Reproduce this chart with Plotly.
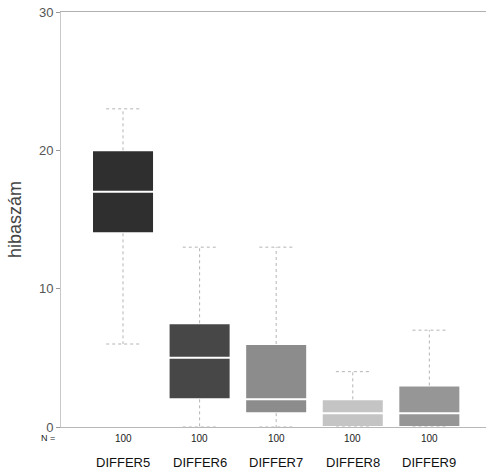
import plotly.graph_objects as go

categories = ["DIFFER5", "DIFFER6", "DIFFER7", "DIFFER8", "DIFFER9"]
n_values = [100, 100, 100, 100, 100]
q1 = [14, 2, 1, 0, 0]
median = [17, 5, 2, 1, 1]
q3 = [20, 7.5, 6, 2, 3]
lower_whisker = [6, 0, 0, 0, 0]
upper_whisker = [23, 13, 13, 4, 7]
fills = ["#2f2f2f", "#474747", "#8c8c8c", "#c4c4c4", "#969696"]
y_ticks = [0, 10, 20, 30]

pos = list(range(len(categories)))
fig = go.Figure()

# whiskers
wx, wy = [], []
cap = 0.22
for i in pos:
    wx += [i, i, None, i, i, None, i - cap, i + cap, None, i - cap, i + cap, None]
    wy += [q3[i], upper_whisker[i], None, q1[i], lower_whisker[i], None,
           upper_whisker[i], upper_whisker[i], None, lower_whisker[i], lower_whisker[i], None]
fig.add_trace(go.Scatter(x=wx, y=wy, mode="lines",
                         line=dict(color="#b4b4b4", width=1, dash="dot"),
                         hoverinfo="skip", showlegend=False))

for i in pos:
    fig.add_trace(go.Box(
        x=[i], q1=[q1[i]], median=[median[i]], q3=[q3[i]],
        lowerfence=[q1[i]], upperfence=[q3[i]],
        width=0.81, fillcolor=fills[i],
        line=dict(color="white", width=2),
        boxpoints=False, showlegend=False, whiskerwidth=0,
    ))

# N row and category labels
for i in pos:
    fig.add_annotation(x=i, y=0, xref="x", yref="paper", text=str(n_values[i]),
                       showarrow=False, yanchor="top", yshift=-4,
                       font=dict(size=10, color="#222", family="Liberation Sans, Arial"))
    fig.add_annotation(x=i, y=0, xref="x", yref="paper", text=categories[i],
                       showarrow=False, yanchor="top", yshift=-26,
                       font=dict(size=13, color="#111", family="Liberation Sans, Arial"))
fig.add_annotation(x=-0.81, y=0, xref="x", yref="paper", text="N =",
                   showarrow=False, xanchor="right", yanchor="top", yshift=-4, xshift=-4,
                   font=dict(size=9, color="#222", family="Liberation Sans, Arial"))

fig.add_trace(go.Scatter(x=[None], y=[None], xaxis="x2", showlegend=False,
                         hoverinfo="skip"))

fig.update_layout(
    width=486, height=470,
    margin=dict(l=61, r=0, t=12, b=43),
    paper_bgcolor="white", plot_bgcolor="white",
    font=dict(family="Liberation Sans, Arial", color="#333"),
    xaxis=dict(range=[-0.81, 4.74], showticklabels=False, showgrid=False,
               zeroline=False, showline=True, linecolor="#b8b8b8", linewidth=1,
               mirror=False, ticks=""),
    xaxis2=dict(overlaying="x", side="top", range=[-0.81, 4.74],
                showticklabels=False, showgrid=False, zeroline=False,
                showline=True, linecolor="#b0b0b0", linewidth=1, ticks=""),
    yaxis=dict(range=[0, 30], tickvals=y_ticks, showgrid=False, zeroline=False,
               showline=True, linecolor="#c8c8c8", linewidth=1, ticks="outside",
               mirror=False,
               ticklen=4, tickcolor="#999", tickfont=dict(size=13, color="#555"),
               title=dict(text="hibaszám", font=dict(size=18, color="#444"), standoff=12)),
)

fig.write_html("out.html")
